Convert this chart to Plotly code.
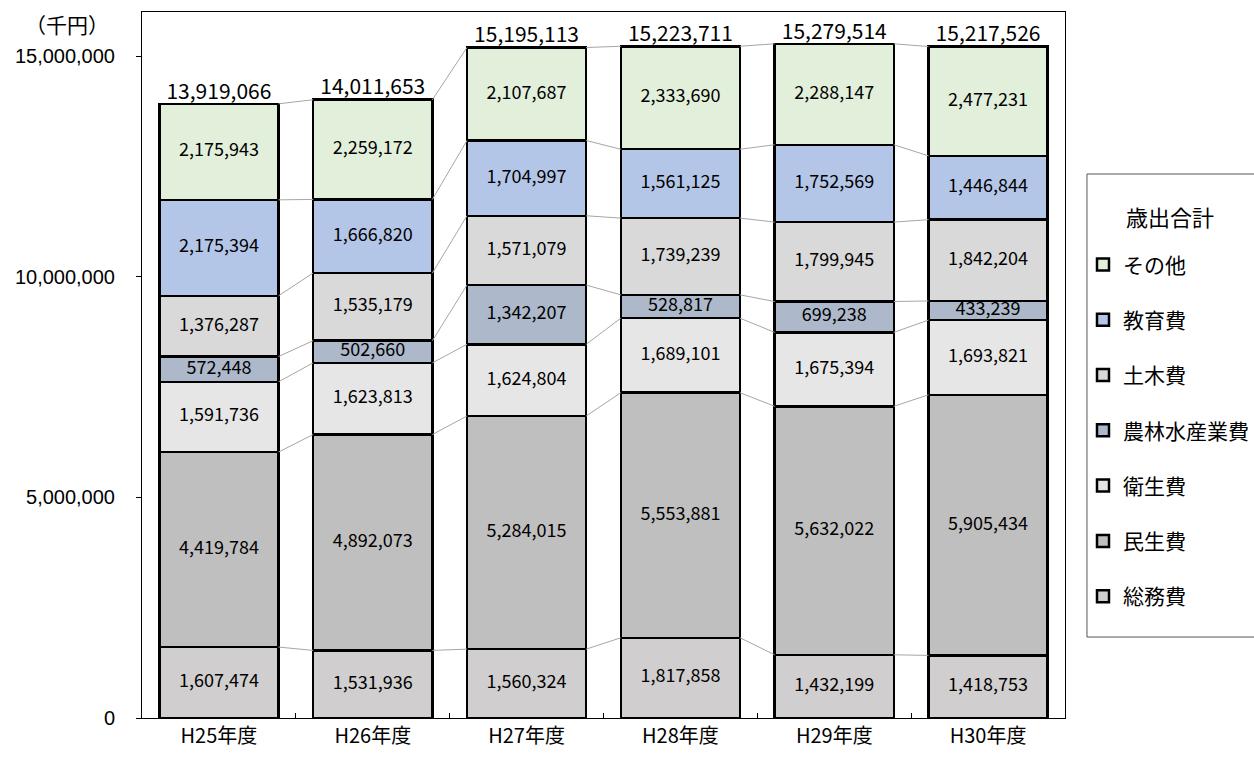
import plotly.graph_objects as go

categories = ["H25年度", "H26年度", "H27年度", "H28年度", "H29年度", "H30年度"]

series_names = ["総務費", "民生費", "衛生費", "農林水産業費", "土木費", "教育費", "その他"]
soumu = [1607474, 1531936, 1560324, 1817858, 1432199, 1418753]
minsei = [4419784, 4892073, 5284015, 5553881, 5632022, 5905434]
eisei = [1591736, 1623813, 1624804, 1689101, 1675394, 1693821]
nourin = [572448, 502660, 1342207, 528817, 699238, 433239]
doboku = [1376287, 1535179, 1571079, 1739239, 1799945, 1842204]
kyouiku = [2175394, 1666820, 1704997, 1561125, 1752569, 1446844]
sonota = [2175943, 2259172, 2107687, 2333690, 2288147, 2477231]
totals = [13919066, 14011653, 15195113, 15223711, 15279514, 15217526]

series_values = [soumu, minsei, eisei, nourin, doboku, kyouiku, sonota]
colors = ["#D0CECE", "#BFBFBF", "#E7E6E6", "#ADB9CA", "#D9D9D9", "#B4C6E7", "#E2EFDA"]

y_ticks = [0, 5000000, 10000000, 15000000]

JP = "Noto Sans CJK JP"
BAR_W = 0.775
xs = list(range(len(categories)))

fig = go.Figure()

# cumulative tops
cum = []
run = [0] * len(categories)
for vals in series_values:
    run = [r + v for r, v in zip(run, vals)]
    cum.append(list(run))

# connector lines
cx, cy = [], []
for level in cum:
    for i in range(len(categories) - 1):
        cx += [xs[i] + BAR_W / 2, xs[i + 1] - BAR_W / 2, None]
        cy += [level[i], level[i + 1], None]
fig.add_trace(go.Scatter(x=cx, y=cy, mode="lines", line=dict(color="#A6A6A6", width=1),
                         showlegend=False, hoverinfo="skip"))

for k, (name, vals, col) in enumerate(zip(series_names, series_values, colors)):
    fig.add_trace(go.Bar(
        x=xs, y=vals, name=name, width=BAR_W,
        marker=dict(color=col, line=dict(color="black", width=2.5)),
        legendgroup=name, legendrank=100 - k,
    ))

# segment labels
prev = [0] * len(categories)
for vals, top in zip(series_values, cum):
    mids = [(p + t) / 2 for p, t in zip(prev, top)]
    fig.add_trace(go.Scatter(
        x=xs, y=mids, mode="text", text=[f"{v:,}" for v in vals],
        textfont=dict(family=JP, size=18, color="black"),
        showlegend=False, hoverinfo="skip"))
    prev = top

# totals
fig.add_trace(go.Scatter(
    x=xs, y=totals, mode="text", text=[f"{v:,}" for v in totals],
    textposition="top center",
    textfont=dict(family=JP, size=21, color="black"),
    showlegend=False, hoverinfo="skip"))

fig.update_layout(
    width=1254, height=760,
    margin=dict(l=142, r=189, t=12, b=42, autoexpand=False),
    barmode="stack",
    plot_bgcolor="white", paper_bgcolor="white",
    font=dict(family=JP, color="black"),
    legend=dict(
        x=1.0195, xanchor="left", y=0.671, yanchor="top",
        borderwidth=0, bgcolor="rgba(0,0,0,0)",
        font=dict(family=JP, size=21, color="black"),
        tracegroupgap=25, traceorder="reversed+grouped",
        itemwidth=30,
    ),
    xaxis=dict(
        range=[-0.5, len(categories) - 0.5],
        tickmode="array", tickvals=xs, ticktext=categories,
        tickfont=dict(family=JP, size=20), ticks="", showgrid=False,
        showline=True, linecolor="black", linewidth=1, mirror=True,
        minor=dict(tickmode="array", tickvals=[i + 0.5 for i in xs[:-1]],
                   ticks="inside", ticklen=5, tickcolor="black"),
        zeroline=False,
    ),
    yaxis=dict(
        range=[0, 16000000], tickmode="array", tickvals=y_ticks,
        tickformat=",", tickfont=dict(family="Liberation Sans", size=20),
        ticks="outside", ticklen=5, tickcolor="black", ticklabelstandoff=17,
        showgrid=False, zeroline=False,
        showline=True, linecolor="black", linewidth=1, mirror=True,
    ),
    shapes=[dict(type="rect", xref="paper", yref="paper",
                 x0=1.0238, x1=1.21, y0=0.1147, y1=0.7705,
                 line=dict(color="#555555", width=1), fillcolor="rgba(0,0,0,0)")],
    annotations=[
        dict(text="（千円）", xref="paper", yref="paper", x=-0.081, y=0.983,
             xanchor="center", yanchor="middle", showarrow=False,
             font=dict(family=JP, size=21)),
        dict(text="歳出合計", xref="paper", yref="paper", x=1.1138, y=0.7105,
             xanchor="center", yanchor="middle", showarrow=False,
             font=dict(family=JP, size=22)),
    ],
)

fig.write_html("out.html", config={"displayModeBar": False},
               post_script="document.body.style.margin='0';")
